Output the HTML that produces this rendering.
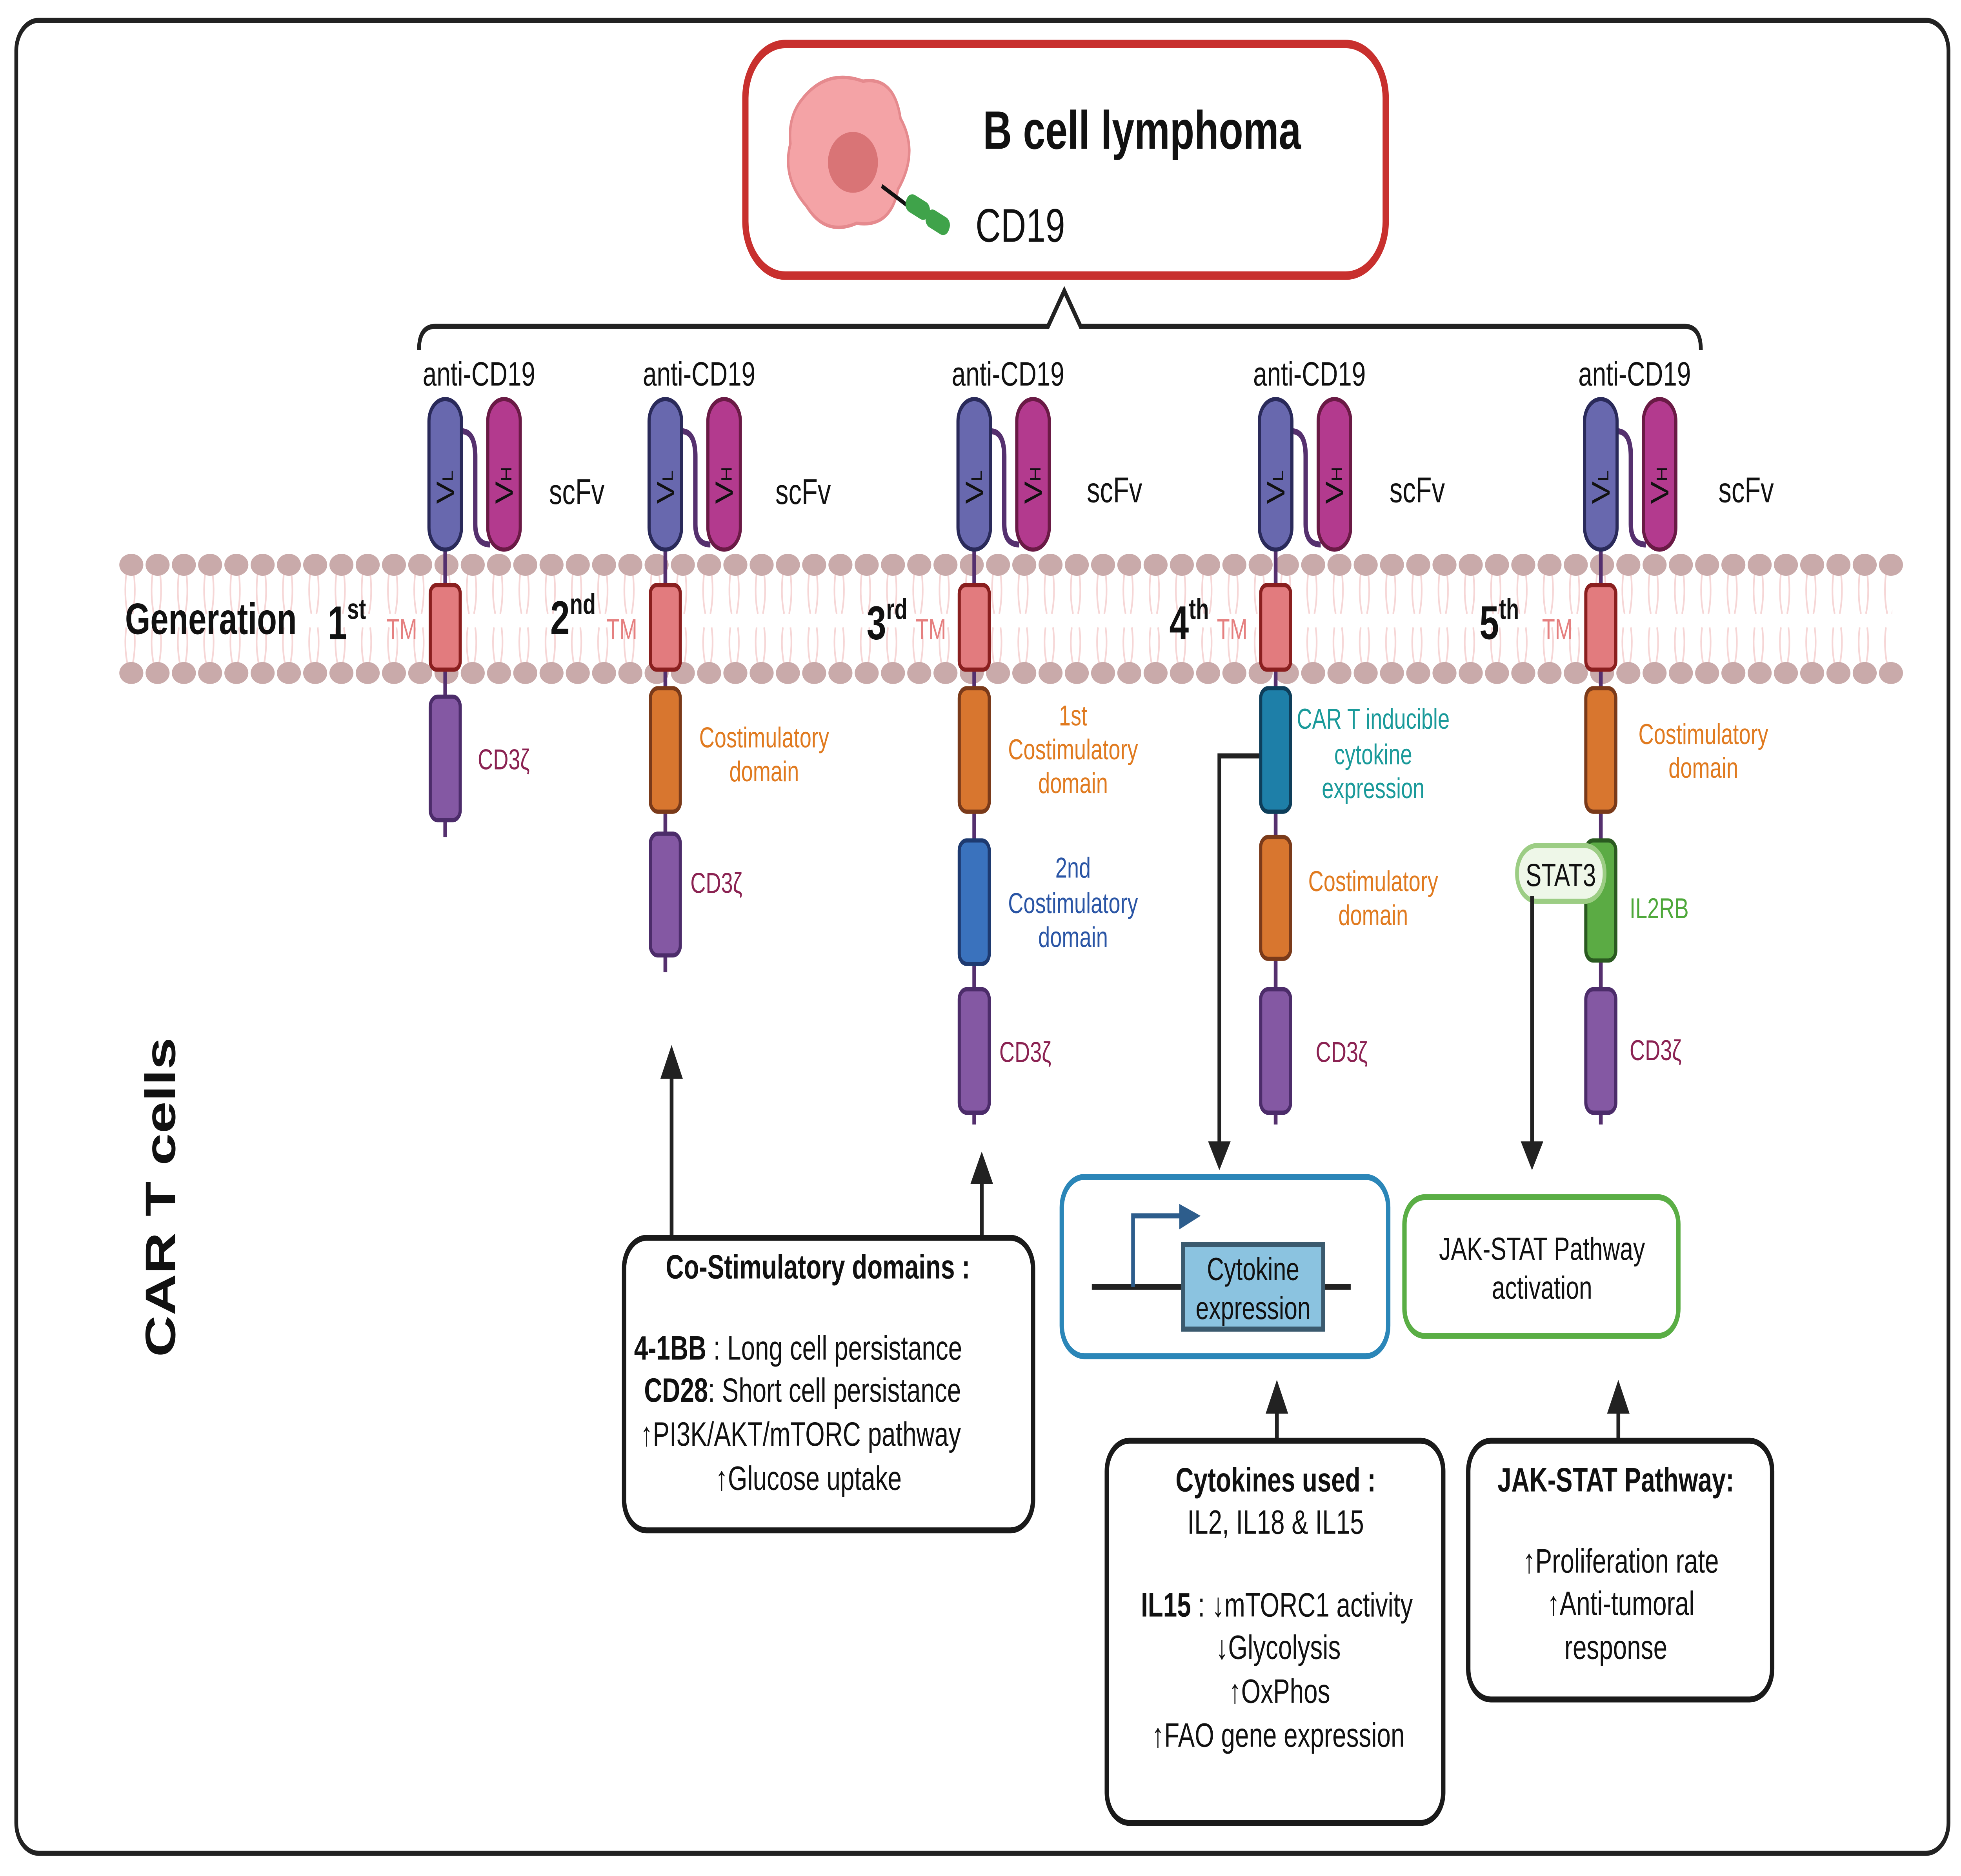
<!DOCTYPE html>
<html><head><meta charset="utf-8"><style>
html,body{margin:0;padding:0;background:#fff;width:100%;height:100%;overflow:hidden}
svg{display:block;width:100vw;height:100vh}
text{font-family:"Liberation Sans",sans-serif}
</style></head><body>
<svg viewBox="0 0 1568 1109.4" preserveAspectRatio="none" xmlns="http://www.w3.org/2000/svg">
<defs>
<pattern id="tails" x="95" y="327" width="21" height="78" patternUnits="userSpaceOnUse">
<path d="M6 12 Q4 25 7 36 M12 12 Q14 25 11 36 M6 44 Q4 55 7 66 M12 44 Q14 55 11 66" stroke="#f6d6d6" stroke-width="1.3" fill="none"/>
</pattern>
</defs>
<rect x="13" y="12" width="1545" height="1084" rx="18" fill="#fff" stroke="#222" stroke-width="3"/>

<rect x="596" y="26" width="512" height="137" rx="32" fill="#fff" stroke="#c8302e" stroke-width="5"/>
<path d="M640 60 Q660 40 690 48 Q715 45 720 70 Q735 90 718 112 Q712 135 685 132 Q660 140 645 122 Q625 105 632 85 Q630 70 640 60Z" fill="#f4a3a6" stroke="#e58a8e" stroke-width="2"/>
<ellipse cx="682" cy="96" rx="20" ry="18" fill="#d97476"/>
<line x1="705" y1="110" x2="730" y2="124" stroke="#111" stroke-width="2.5"/>
<rect x="724" y="117" width="20" height="11" rx="5" fill="#3fa34a" transform="rotate(25 734 122)"/>
<rect x="740" y="126" width="20" height="11" rx="5" fill="#3fa34a" transform="rotate(25 750 131)"/>
<text x="786" y="88" font-size="32" font-weight="bold" fill="#111">B cell lymphoma</text>
<text x="780" y="143" font-size="28" fill="#111">CD19</text>

<path d="M335 207 Q335 193 348 193 L838 193 L851 172 L864 193 L1347 193 Q1360 193 1360 207" fill="none" stroke="#222" stroke-width="3"/>

<rect x="95" y="327" width="1418" height="78" fill="url(#tails)"/>
<g id="beadrows"></g>
<text x="100" y="375" font-size="26" font-weight="bold" fill="#111">Generation</text>
<text x="262" y="378" font-size="28" font-weight="bold" fill="#111">1<tspan font-size="17" dy="-12">st</tspan></text>
<text x="440" y="375" font-size="28" font-weight="bold" fill="#111">2<tspan font-size="17" dy="-12">nd</tspan></text>
<text x="693" y="378" font-size="28" font-weight="bold" fill="#111">3<tspan font-size="17" dy="-12">rd</tspan></text>
<text x="935" y="378" font-size="28" font-weight="bold" fill="#111">4<tspan font-size="17" dy="-12">th</tspan></text>
<text x="1183" y="378" font-size="28" font-weight="bold" fill="#111">5<tspan font-size="17" dy="-12">th</tspan></text>
<g font-size="17" fill="#e58080">
<text x="309" y="378">TM</text><text x="485" y="378">TM</text><text x="732" y="378">TM</text><text x="973" y="378">TM</text><text x="1233" y="378">TM</text>
</g>

<text x="0" y="0" font-size="34" font-weight="bold" fill="#111" text-anchor="middle" transform="translate(140 708) rotate(-90)">CAR T cells</text>

<g id="cols"></g>

<g stroke="#222" stroke-width="3" fill="none">
<line x1="537" y1="732" x2="537" y2="635"/>
<line x1="785" y1="732" x2="785" y2="697"/>
<polyline points="1007,447 975,447 975,678"/>
<line x1="1225" y1="530" x2="1225" y2="678"/>
<line x1="1021" y1="852" x2="1021" y2="832"/>
<line x1="1294" y1="852" x2="1294" y2="832"/>
</g>
<g fill="#222">
<path d="M528 638 L537 618 L546 638Z"/>
<path d="M776 700 L785 681 L794 700Z"/>
<path d="M966 675 L975 692 L984 675Z"/>
<path d="M1216 675 L1225 692 L1234 675Z"/>
<path d="M1012 836 L1021 816 L1030 836Z"/>
<path d="M1285 836 L1294 816 L1303 836Z"/>
</g>

<rect x="499" y="732" width="327" height="173" rx="18" fill="#fff" stroke="#1a1a1a" stroke-width="3.5"/>
<text x="654" y="756" font-size="20" font-weight="bold" text-anchor="middle" fill="#111">Co-Stimulatory domains :</text>
<g font-size="20" fill="#111">
<text x="507" y="804"><tspan font-weight="bold">4-1BB</tspan>  : Long cell persistance</text>
<text x="515" y="829"><tspan font-weight="bold">CD28</tspan>: Short cell persistance</text>
<text x="512" y="855">↑PI3K/AKT/mTORC pathway</text>
<text x="572" y="881">↑Glucose uptake</text>
</g>

<rect x="849" y="696" width="261" height="106" rx="18" fill="#fff" stroke="#2b86b8" stroke-width="3.5"/>
<line x1="873" y1="761" x2="1080" y2="761" stroke="#222" stroke-width="3.5"/>
<polyline points="906,761 906,719 945,719" fill="none" stroke="#2d5d8c" stroke-width="3"/>
<path d="M943 712 L960 719 L943 727Z" fill="#2d5d8c"/>
<rect x="946" y="736" width="112" height="50" fill="#8bc3e0" stroke="#3b5a6e" stroke-width="3"/>
<text x="1002" y="757" font-size="19" text-anchor="middle" fill="#111">Cytokine</text>
<text x="1002" y="780" font-size="19" text-anchor="middle" fill="#111">expression</text>

<rect x="1123" y="708" width="219" height="82" rx="16" fill="#fff" stroke="#5aae45" stroke-width="3.5"/>
<text x="1233" y="745" font-size="19" text-anchor="middle" fill="#111">JAK-STAT Pathway</text>
<text x="1233" y="768" font-size="19" text-anchor="middle" fill="#111">activation</text>

<rect x="885" y="852" width="269" height="226" rx="18" fill="#fff" stroke="#1a1a1a" stroke-width="3.5"/>
<g font-size="20" fill="#111" text-anchor="middle">
<text x="1020" y="882" font-weight="bold">Cytokines used :</text>
<text x="1020" y="907">IL2, IL18 &amp; IL15</text>
<text x="1021" y="956"><tspan font-weight="bold">IL15</tspan> : ↓mTORC1 activity</text>
<text x="1022" y="981">↓Glycolysis</text>
<text x="1023" y="1007">↑OxPhos</text>
<text x="1022" y="1033">↑FAO gene expression</text>
</g>

<rect x="1174" y="852" width="243" height="153" rx="18" fill="#fff" stroke="#1a1a1a" stroke-width="3.5"/>
<g font-size="20" fill="#111" text-anchor="middle">
<text x="1292" y="882" font-weight="bold">JAK-STAT Pathway:</text>
<text x="1296" y="930">↑Proliferation rate</text>
<text x="1296" y="955">↑Anti-tumoral</text>
<text x="1292" y="981">response</text>
</g>

<script>
var S="http://www.w3.org/2000/svg";
function el(p,t,a,txt){var e=document.createElementNS(S,t);for(var k in a)e.setAttribute(k,a[k]);if(txt!=null)e.textContent=txt;p.appendChild(e);return e;}
var br=document.getElementById('beadrows');
for(var x=105;x<1513;x+=21){el(br,'ellipse',{cx:x,cy:334,rx:9.6,ry:6.5,fill:'#c9aaaa'});el(br,'ellipse',{cx:x,cy:398,rx:9.6,ry:6.5,fill:'#c9aaaa'});}
var cg=document.getElementById('cols');
var cols=[
 {x:356,end:495,segs:[[412,485,'#8458a3','#4c2c6a']],labs:[['CD3ζ',382,455,'#8b2252','start']]},
 {x:532,end:575,segs:[[407,480,'#d8762f','#7a3a1a'],[493,565,'#8458a3','#4c2c6a']],labs:[['Costimulatory',611,442,'#e07a1f','middle'],['domain',611,462,'#e07a1f','middle'],['CD3ζ',552,528,'#8b2252','start']]},
 {x:779,end:665,segs:[[407,480,'#d8762f','#7a3a1a'],[497,570,'#3a72bd','#1e3a70'],[585,658,'#8458a3','#4c2c6a']],labs:[['1st',858,429,'#e07a1f','middle'],['Costimulatory',858,449,'#e07a1f','middle'],['domain',858,469,'#e07a1f','middle'],['2nd',858,519,'#2a55a5','middle'],['Costimulatory',858,540,'#2a55a5','middle'],['domain',858,560,'#2a55a5','middle'],['CD3ζ',799,628,'#8b2252','start']]},
 {x:1020,end:665,segs:[[407,480,'#1e7fa8','#0e3e5a'],[495,567,'#d8762f','#7a3a1a'],[585,658,'#8458a3','#4c2c6a']],labs:[['CAR T inducible',1098,431,'#1a9a9a','middle'],['cytokine',1098,452,'#1a9a9a','middle'],['expression',1098,472,'#1a9a9a','middle'],['Costimulatory',1098,527,'#e07a1f','middle'],['domain',1098,547,'#e07a1f','middle'],['CD3ζ',1052,628,'#8b2252','start']]},
 {x:1280,end:665,segs:[[407,480,'#d8762f','#7a3a1a'],[497,568,'#5bab44','#2a5a20'],[585,658,'#8458a3','#4c2c6a']],labs:[['Costimulatory',1362,440,'#e07a1f','middle'],['domain',1362,460,'#e07a1f','middle'],['IL2RB',1303,543,'#4ea83a','start'],['CD3ζ',1303,627,'#8b2252','start']]}
];
cols.forEach(function(c){
 var x=c.x;
 el(cg,'line',{x1:x,y1:300,x2:x,y2:c.end,stroke:'#55306e','stroke-width':3});
 el(cg,'path',{d:'M'+(x+13)+' 255 Q'+(x+24)+' 255 '+(x+24)+' 270 L'+(x+24)+' 310 Q'+(x+24)+' 322 '+(x+36)+' 322',fill:'none',stroke:'#55306e','stroke-width':3.5});
 el(cg,'rect',{x:x-13,y:236,width:26,height:89,rx:13,fill:'#6868ae',stroke:'#2a2a5a','stroke-width':2.5});
 el(cg,'rect',{x:x+34,y:236,width:26,height:89,rx:13,fill:'#b33a8e',stroke:'#6a1a45','stroke-width':2.5});
 var t=el(cg,'text',{x:0,y:0,'font-size':20,fill:'#111',transform:'translate('+(x+7)+' 298) rotate(-90)'});t.textContent='V';el(t,'tspan',{'font-size':12,dy:-1},'L');
 var t2=el(cg,'text',{x:0,y:0,'font-size':20,fill:'#111',transform:'translate('+(x+54)+' 298) rotate(-90)'});t2.textContent='V';el(t2,'tspan',{'font-size':12,dy:-1},'H');
 el(cg,'text',{x:c.x-18,y:228,'font-size':20,fill:'#111'},'anti-CD19');
 el(cg,'rect',{x:x-12,y:346,width:24,height:50,rx:5,fill:'#e27b7e',stroke:'#8a1f1f','stroke-width':2.5});
 c.segs.forEach(function(s){el(cg,'rect',{x:x-12,y:s[0],width:24,height:s[1]-s[0],rx:6,fill:s[2],stroke:s[3],'stroke-width':2.5});});
 c.labs.forEach(function(l){el(cg,'text',{x:l[1],y:l[2],'font-size':17,fill:l[3],'text-anchor':l[4]},l[0]);});
});
var sc=[[439,298],[620,298],[869,297],[1111,297],[1374,297]];
sc.forEach(function(p){el(cg,'text',{x:p[0],y:p[1],'font-size':21,fill:'#111'},'scFv');});
el(cg,'rect',{x:1213,y:500,width:70,height:33,rx:16,fill:'#eef7e8',stroke:'#9ccd84','stroke-width':3});
el(cg,'text',{x:1248,y:524,'font-size':19,fill:'#111','text-anchor':'middle'},'STAT3');
</script>
</svg>
</body></html>
